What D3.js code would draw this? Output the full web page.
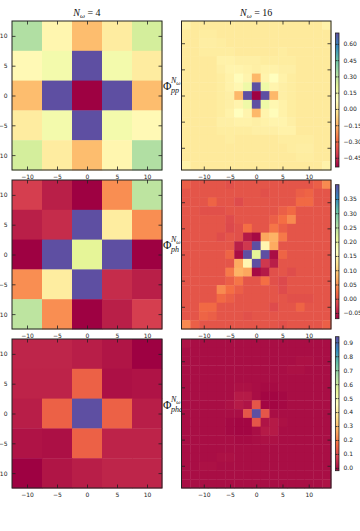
<!DOCTYPE html>
<html>
<head>
<meta charset="utf-8">
<script src="https://cdn.jsdelivr.net/npm/d3@7"></script>
<style>
  body { margin: 0; background: #fff; }
  svg { display: block; }
  .tick text { font-family: 'DejaVu Sans', sans-serif; font-size: 6px; fill: #222; }
  .tick line { stroke: #222; stroke-width: 0.8; }
</style>
</head>
<body>
<script>
/************************************** Data ***************************************/
// cell centres of the frequency grids (N_w = 4 on the left, N_w = 16 on the right)
var nuLeft = [-10, -5, 0, 5, 10];
var stepLeft = 5;
var stepRight = 1.676;
var nuRight = d3.range(-8, 9).map((k) => k * stepRight);
var axisTicks = [-10, -5, 0, 5, 10];
var colTitles = ['4', '16'];
var rowNames = ['pp', 'ph', 'phc'];

// rows are listed from the top (highest frequency) down
var ppLeft = [
    [0.317, 0.045, -0.127, 0.008, 0.243],
    [0.058, 0.144, 0.70, 0.144, 0.008],
    [-0.127, 0.70, -0.535, 0.70, -0.127],
    [0.008, 0.144, 0.70, 0.144, 0.058],
    [0.243, 0.008, -0.127, 0.045, 0.317]
];
var ppRight = [
    [0.03,0,0,0,0,0,0,0,0,0,0,0,0,0,0,0,0.03],
    [0,0,0.01,0.01,0,0,0,0,0,0,0,0,0,0,0,0,0],
    [0,0,0.015,0.015,0.01,0,0,0,0,0,0,0,0,0,0,0,0],
    [0,0,0.01,0.01,0.01,0.01,0,0,0,0,0,0.01,0,0,0,0,0],
    [0,0,0,0,0.03,0.03,0.02,0.02,0.02,0.01,0.01,0.01,0.01,0,0,0,0],
    [0,0,0,0,0.02,0.04,0.04,0.03,0.02,0.03,0.03,0.02,0.02,0,0,0,0],
    [0,0,0,0,0.01,0.03,0.07,0.04,-0.14,0.04,0.08,0.03,0.01,0,0,0,0],
    [0,0,0,0,0.01,0.03,0.05,0.16,0.70,0.16,0.04,0.02,0.01,0,0,0,0],
    [0,0,0,0,0.01,0.02,-0.14,0.70,-0.535,0.70,-0.14,0.02,0.01,0,0,0,0],
    [0,0,0,0,0.01,0.02,0.04,0.16,0.70,0.16,0.05,0.03,0.01,0,0,0,0],
    [0,0,0,0,0.01,0.03,0.08,0.04,-0.14,0.04,0.07,0.03,0.01,0,0,0,0],
    [0,0,0,0,0.02,0.02,0.03,0.03,0.02,0.03,0.04,0.04,0.02,0,0,0,0],
    [0,0,0,0,0.01,0.01,0.01,0.01,0.02,0.02,0.02,0.03,0.03,0,0,0,0],
    [0,0,0,0,0,0.01,0,0,0,0,0,0.01,0.01,0.01,0.01,0,0],
    [0,0,0,0,0,0,0,0,0,0,0,0,0.01,0.015,0.015,0,0],
    [0,0,0,0,0,0,0,0,0,0,0,0,0,0.01,0.01,0,0],
    [0.03,0,0,0,0,0,0,0,0,0,0,0,0,0,0,0,0.03]
];
var phLeft = [
    [-0.023, -0.047, -0.07, 0.0475, 0.245],
    [-0.047, -0.037, 0.40, 0.137, 0.0475],
    [-0.07, 0.40, 0.212, 0.40, -0.07],
    [0.0475, 0.137, 0.40, -0.037, -0.047],
    [0.245, 0.0475, -0.07, -0.047, -0.023]
];
var phRight = [
    [0.01,0,0,0,0,-0.005,0,0,0,0,0,0,0,0,0,0.01,0.045],
    [0,0,0,0,0,0,0,0,0,-0.005,0,0,0,0.01,0.015,0,0],
    [0,0,0,0.015,0,0,-0.01,0,0,0,0,0,0,0.02,0.02,0,0],
    [0,0,-0.005,-0.005,-0.005,0,0,0,0,0,0,0.01,0.02,0,0,0,0],
    [0,0,0,0,0,-0.01,0,0,0,0,0.01,0.025,0.045,0,0,0,0],
    [0,0,0,0,0,-0.012,-0.005,0.025,0,0,0.03,0.01,0,0,0,0,0],
    [0,0,0,0,-0.008,0,-0.005,-0.051,-0.063,0.066,0.076,0.033,0,0,0,0,0],
    [0,0,0,0,0,0,-0.047,-0.028,0.40,0.151,0.069,0,0,0,0,0,0],
    [0,0,0,0,0,0.015,-0.061,0.40,0.212,0.40,-0.061,0.015,0,0,0,0,0],
    [0,0,0,0,0,0,0.069,0.151,0.40,-0.028,-0.047,0,0,0,0,0,0],
    [0,0,0,0,0,0.033,0.076,0.066,-0.063,-0.051,-0.005,0,-0.008,0,0,0,0],
    [0,0,0,0,0,0.01,0.03,0,0,0.025,-0.005,-0.012,0,0,0,0,0],
    [0,0,0,0,0.045,0.025,0.01,0,0,0,0,-0.01,0,0,0,0,0],
    [0,0,0,0,0.02,0.01,0,0,0,0,0,0,-0.005,-0.005,-0.005,0,0],
    [0,0,0.02,0.02,0,0,0,0,0,0,-0.01,0,0,0.015,0,0,0],
    [0,0,0.015,0.01,0,0,0,-0.005,0,0,0,0,0,0,0,0,0],
    [0.045,0.01,0,0,0,0,0,0,0,0,0,-0.005,0,0,0,0,0.01]
];
var phcLeft = [
    [0.036, 0.036, 0.025, 0.012, -0.02],
    [0.034, 0.034, 0.147, 0.004, 0.009],
    [0.025, 0.147, 0.94, 0.147, 0.025],
    [0.009, 0.004, 0.147, 0.034, 0.034],
    [-0.02, 0.012, 0.025, 0.036, 0.036]
];
var phcRight = [
    [0.008,0,0,0,0,0,0,0,0,0,0,0,0,0,0,0,0],
    [0,0,0,0,0,0,0,0,0,0,0,0,0,0,0,0,0],
    [0,0,0,0,0,0,0,0,0,0,0,0,0,0.005,0.005,0,0],
    [0,0,0,0,0,0,0,0,0,0,0,0,0.005,0.005,0,0,0],
    [0,0,0,0,0,0,0,0,0,0,0,0,0,0,0,0,0],
    [0,0,0,0,0,0,0.005,0.005,0,-0.005,-0.005,0,0,0,0,0,0],
    [0,0,0,0,0,0,0.02,0.02,0,-0.012,-0.012,-0.008,0,0,0,0,0],
    [0,0,0,0,0,0.005,0.02,0.01,0.124,-0.012,-0.012,-0.008,0,0,0,0,0],
    [0,0,0,0,0,0,0,0.124,0.94,0.124,0,0,0,0,0,0,0],
    [0,0,0,0,0,-0.008,-0.012,-0.012,0.124,0.01,0.02,0.005,0,0,0,0,0],
    [0,0,0,0,0,-0.008,-0.012,-0.012,0,0.02,0.02,0,0,0,0,0,0],
    [0,0,0,0,0,0,-0.005,-0.005,0,0.005,0.005,0,0,0,0,0,0],
    [0,0,0,0,0,0,0,0,0,0,0,0,0,0,0,0,0],
    [0,0,0,0,0.005,0.005,0,0,0,0,0,0,0,0,0,0,0],
    [0,0,0.005,0.005,0,0,0,0,0,0,0,0,0,0,0,0,0],
    [0,0,0,0,0,0,0,0,0,0,0,0,0,0,0,0,0],
    [0,0,0,0,0,0,0,0,0,0,0,0,0,0,0,0,0.008]
];
var leftData = [ppLeft, phLeft, phcLeft];
var rightData = [ppRight, phRight, phcRight];

// colour limits and colourbar ticks for each row
var ranges = [[-0.535, 0.70], [-0.07, 0.40], [-0.02, 0.94]];
var cbTicks = [
    [-0.45, -0.30, -0.15, 0, 0.15, 0.30, 0.45, 0.60],
    [-0.05, 0, 0.05, 0.10, 0.15, 0.20, 0.25, 0.30, 0.35],
    [0, 0.1, 0.2, 0.3, 0.4, 0.5, 0.6, 0.7, 0.8, 0.9]
];
var cbFormats = ['.2f', '.2f', '.1f'];

/************************************** Layout ***************************************/
var width = 360;
var height = 531;
var leftX = [12, 162];
var rightX = [181.5, 331];
var rowTop = [21, 180, 339];
var panelH = 149;
var cbX = 335.5;
var cbW = 3.5;
var cbTop = [33, 184.7, 336.7];
var cbH = 134;
var tickLen = 3.5;

// matplotlib 'Spectral'
var SPECTRAL = ['#9e0142', '#d53e4f', '#f46d43', '#fdae61', '#fee08b', '#ffffbf',
                '#e6f598', '#abdda4', '#66c2a5', '#3288bd', '#5e4fa2'];

var svg = d3.select('body').append('svg')
            .attr('width', width)
            .attr('height', height);

var defs = svg.append('defs');

function colorScale(range){
    var dom = SPECTRAL.map((c, i) => range[0] + (range[1] - range[0]) * i / (SPECTRAL.length - 1));
    return d3.scaleLinear().domain(dom).range(SPECTRAL).clamp(true);
}

function drawPanel(data, nu, step, xr, top, color, withYLabels){
    var lo = nu[0] - step / 2, hi = nu[nu.length - 1] + step / 2;
    var xScale = d3.scaleLinear().domain([lo, hi]).range(xr);
    var yScale = d3.scaleLinear().domain([lo, hi]).range([top + panelH, top]);
    var n = nu.length;

    var g = svg.append('g');
    var cells = [];
    data.forEach((row, i) => row.forEach((v, j) => cells.push({x: nu[j], y: nu[n - 1 - i], v: v})));

    g.selectAll('rect.cell')
     .data(cells)
     .enter()
     .append('rect')
     .attr('class', 'cell')
     .attr('x', (d) => xScale(d.x - step / 2))
     .attr('y', (d) => yScale(d.y + step / 2))
     .attr('width', (d) => xScale(d.x + step / 2) - xScale(d.x - step / 2) + 0.4)
     .attr('height', (d) => yScale(d.y - step / 2) - yScale(d.y + step / 2) + 0.4)
     .attr('fill', (d) => color(d.v));

    // ticks on all four sides, pointing inwards
    var bottom = d3.axisBottom(xScale).tickValues(axisTicks).tickSize(-tickLen).tickPadding(4.5);
    var topAx = d3.axisTop(xScale).tickValues(axisTicks).tickSize(-tickLen).tickFormat('');
    var leftAx = d3.axisLeft(yScale).tickValues(axisTicks).tickSize(-tickLen).tickPadding(4.5);
    var rightAx = d3.axisRight(yScale).tickValues(axisTicks).tickSize(-tickLen).tickFormat('');
    if (!withYLabels) leftAx.tickFormat('');

    g.append('g').attr('transform', `translate(0,${top + panelH})`).call(bottom);
    g.append('g').attr('transform', `translate(0,${top})`).call(topAx);
    g.append('g').attr('transform', `translate(${xr[0]},0)`).call(leftAx);
    g.append('g').attr('transform', `translate(${xr[1]},0)`).call(rightAx);
    g.selectAll('.domain').remove();

    g.append('rect')
     .attr('x', xr[0]).attr('y', top)
     .attr('width', xr[1] - xr[0]).attr('height', panelH)
     .attr('fill', 'none').attr('stroke', '#222').attr('stroke-width', 1);
}

function drawRowLabel(name, cy){
    var t = svg.append('text')
               .attr('x', 163).attr('y', cy + 4)
               .style('font-family', "'Liberation Serif', serif")
               .style('fill', '#111');
    t.append('tspan').style('font-size', '11.5px').text('\u03a6');
    var sup = svg.append('text').attr('x', 171).attr('y', cy - 3)
                 .style('font-family', "'Liberation Serif', serif")
                 .style('font-style', 'italic').style('font-size', '8px').style('fill', '#111');
    sup.append('tspan').text('N');
    sup.append('tspan').attr('dy', 1.5).style('font-size', '6px').text('\u03c9');
    svg.append('text').attr('x', 171).attr('y', cy + 7)
       .style('font-family', "'Liberation Serif', serif")
       .style('font-style', 'italic').style('font-size', '8px').style('fill', '#111')
       .text(name);
}

function drawColorbar(r){
    var id = `cmap${r}`;
    var grad = defs.append('linearGradient').attr('id', id)
                   .attr('x1', 0).attr('y1', 1).attr('x2', 0).attr('y2', 0);
    grad.selectAll('stop').data(SPECTRAL).enter().append('stop')
        .attr('offset', (d, i) => i / (SPECTRAL.length - 1))
        .attr('stop-color', (d) => d);

    var cScale = d3.scaleLinear().domain(ranges[r]).range([cbTop[r] + cbH, cbTop[r]]);
    svg.append('rect')
       .attr('x', cbX).attr('y', cbTop[r]).attr('width', cbW).attr('height', cbH)
       .attr('fill', `url(#${id})`).attr('stroke', '#222').attr('stroke-width', 0.8);

    var ax = d3.axisRight(cScale).tickValues(cbTicks[r]).tickSize(-1.5).tickPadding(4.5)
               .tickFormat(d3.format(cbFormats[r]));
    var g = svg.append('g').attr('transform', `translate(${cbX + cbW},0)`).call(ax);
    g.select('.domain').remove();
    var g2 = svg.append('g').attr('transform', `translate(${cbX},0)`)
                .call(d3.axisLeft(cScale).tickValues(cbTicks[r]).tickSize(-1.5).tickFormat(''));
    g2.select('.domain').remove();
}

/************************************** Draw ***************************************/
// column titles
[leftX, rightX].forEach((xr, c) => {
    var t = svg.append('text')
               .attr('x', (xr[0] + xr[1]) / 2).attr('y', 16)
               .attr('text-anchor', 'middle')
               .style('font-family', "'Liberation Serif', serif")
               .style('font-size', '10px').style('fill', '#111');
    t.append('tspan').style('font-style', 'italic').text('N');
    t.append('tspan').attr('dy', 2).style('font-style', 'italic').style('font-size', '7px').text('\u03c9');
    t.append('tspan').attr('dy', -2).text(` = ${colTitles[c]}`);
});

var labelY = [86, 245, 405];
rowNames.forEach((name, r) => {
    var color = colorScale(ranges[r]);
    drawPanel(leftData[r], nuLeft, stepLeft, leftX, rowTop[r], color, true);
    drawRowLabel(name, labelY[r]);
    drawPanel(rightData[r], nuRight, stepRight, rightX, rowTop[r], color, false);
    drawColorbar(r);
});
</script>
</body>
</html>
